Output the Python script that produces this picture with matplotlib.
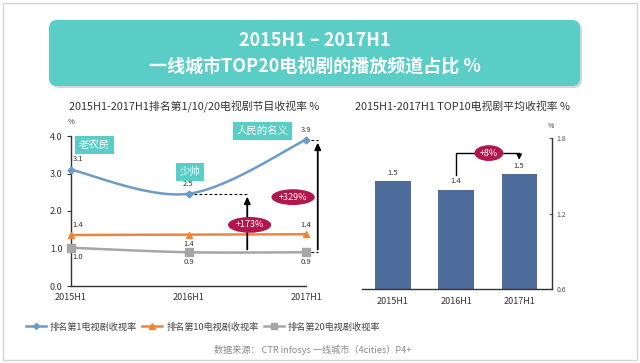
import matplotlib
matplotlib.use("Agg")
import matplotlib.pyplot as plt
import numpy as np
from matplotlib.lines import Line2D
from matplotlib.patches import FancyBboxPatch, Rectangle

plt.rcParams['font.family'] = ['Noto Sans CJK SC', 'DejaVu Sans']

# ---- data ----
periods = ['2015H1', '2016H1', '2017H1']
rank1 = [3.1, 2.46, 3.9]
rank10 = [1.36, 1.37, 1.38]
rank20 = [1.02, 0.9, 0.9]
series_names = ['排名第1电视剧收视率', '排名第10电视剧收视率', '排名第20电视剧收视率']
top_shows = ['老农民', '少帅', '人民的名义']
growth_2016 = '+173%'
growth_2017 = '+329%'

top10_avg = [1.46, 1.39, 1.51]
top10_growth = '+8%'

title_lines = ['2015H1 – 2017H1', '一线城市TOP20电视剧的播放频道占比 %']
left_title = '2015H1-2017H1排名第1/10/20电视剧节目收视率 %'
right_title = '2015H1-2017H1 TOP10电视剧平均收视率 %'
source = '数据来源： CTR infosys 一线城市（4cities）P4+'

TEAL = '#59cdc6'
CRIMSON = '#b3164b'
BLUE = '#6b9bc8'
ORANGE = '#ef8535'
GRAY = '#a6a6a6'
BAR = '#4d6b9b'
DARK = '#333333'


def smooth(xs, ys, n=40):
    # bezier segments with catmull-rom tangents (like Excel's smoothed line)
    pts = np.column_stack([xs, ys]).astype(float)
    out = []
    for i in range(len(pts) - 1):
        p0 = pts[max(i - 1, 0)]
        p1 = pts[i]
        p2 = pts[i + 1]
        p3 = pts[min(i + 2, len(pts) - 1)]
        c1 = p1 + (p2 - p0) / 6
        c2 = p2 - (p3 - p1) / 6
        t = np.linspace(0, 1, n)[:, None]
        seg = (1 - t) ** 3 * p1 + 3 * (1 - t) ** 2 * t * c1 + 3 * (1 - t) * t ** 2 * c2 + t ** 3 * p2
        out.append(seg if i == 0 else seg[1:])
    return np.vstack(out)


fig = plt.figure(figsize=(6.4, 3.63), dpi=100)

# background layer in pixel coordinates
bg = fig.add_axes([0, 0, 1, 1], zorder=0)
bg.set_xlim(0, 640)
bg.set_ylim(363, 0)
bg.axis('off')
bg.add_patch(Rectangle((3, 3), 634, 357, fc='white', ec='#d4d4d4', lw=1))
bg.add_patch(FancyBboxPatch((51, 22), 531, 66, boxstyle='round,pad=0,rounding_size=8',
                            fc='#bdbdbd', ec='none', alpha=0.6))
bg.add_patch(FancyBboxPatch((49, 20), 531, 66, boxstyle='round,pad=0,rounding_size=8',
                            fc=TEAL, ec='none'))
bg.text(315, 41, title_lines[0], color='white', fontsize=13, fontweight='bold',
        ha='center', va='center')
bg.text(315, 67, title_lines[1], color='white', fontsize=13, fontweight='bold',
        ha='center', va='center')
bg.text(194, 107, left_title, color=DARK, fontsize=7.8, ha='center', va='center')
bg.text(462, 107, right_title, color=DARK, fontsize=7.8, ha='center', va='center')
bg.text(71, 122, '%', color=DARK, fontsize=5.5, ha='center', va='center')
bg.text(551, 126, '%', color=DARK, fontsize=5, ha='center', va='center')
bg.text(313, 350, source, color='#8a8a8a', fontsize=6.6, ha='center', va='center')

# ---- left line chart ----
ax = fig.add_axes([71 / 640, (363 - 286) / 363, 235 / 640, 150 / 363], zorder=2)
ax.patch.set_alpha(0)
x = np.arange(len(periods))
for vals, color, marker, ms in [(rank1, BLUE, 'D', 3.5), (rank10, ORANGE, '^', 4.5), (rank20, GRAY, 's', 5.5)]:
    curve = smooth(x, vals)
    ax.plot(curve[:, 0], curve[:, 1], color=color, lw=1.8, clip_on=False, zorder=3)
    ax.plot(x, vals, linestyle='none', marker=marker, ms=ms, color=color, clip_on=False, zorder=4)

lab = dict(fontsize=5.5, color=DARK, textcoords='offset points', ha='center')
ax.annotate(f'{rank1[0]:.1f}', (x[0], rank1[0]), xytext=(5, 5), va='bottom', **lab)
ax.annotate(f'{rank1[1]:.1f}', (x[1], rank1[1]), xytext=(0, 4), va='bottom', **lab)
ax.annotate(f'{rank1[2]:.1f}', (x[2], rank1[2]), xytext=(0, 4), va='bottom', **lab)
ax.annotate(f'{rank10[0]:.1f}', (x[0], rank10[0]), xytext=(5, 4), va='bottom', **lab)
ax.annotate(f'{rank10[1]:.1f}', (x[1], rank10[1]), xytext=(0, -4), va='top', **lab)
ax.annotate(f'{rank10[2]:.1f}', (x[2], rank10[2]), xytext=(0, 4), va='bottom', **lab)
for i, v in enumerate(rank20):
    ax.annotate(f'{v:.1f}', (x[i], v), xytext=(5 if i == 0 else 0, -4), va='top', **lab)

# show name tags
tag = dict(color='white', fontsize=7.5, ha='center', va='center',
           bbox=dict(boxstyle='square,pad=0.35', fc=TEAL, ec='none'))
ax.text(0.2, 3.76, top_shows[0], **tag)
ax.text(1.01, 3.04, top_shows[1], **tag)
ax.text(1.63, 4.13, top_shows[2], clip_on=False, **tag)

# growth arrows
ax.plot([x[1], 1.5], [rank1[1]] * 2, ls='--', color='black', lw=0.8, dashes=(2.5, 2), clip_on=False)
ax.plot([x[1], 1.5], [rank20[1]] * 2, ls='--', color='black', lw=0.8, dashes=(2.5, 2), clip_on=False)
ax.plot([x[2], 2.1], [rank1[2]] * 2, ls='--', color='black', lw=0.8, dashes=(2.5, 2), clip_on=False)
ax.plot([x[2], 2.1], [rank20[2]] * 2, ls='--', color='black', lw=0.8, dashes=(2.5, 2), clip_on=False)
arr = dict(arrowstyle='-|>,head_length=0.4,head_width=0.18', color='black', lw=1.3)
ax.annotate('', xy=(1.5, rank1[1]), xytext=(1.5, rank20[1]), arrowprops=arr, annotation_clip=False)
ax.annotate('', xy=(2.1, rank1[2]), xytext=(2.1, rank20[2]), arrowprops=arr, annotation_clip=False)
oval = dict(color='white', fontsize=6.5, ha='center', va='center', zorder=6,
            bbox=dict(boxstyle='ellipse,pad=0.12', fc=CRIMSON, ec='none'))
ax.text(1.52, 1.63, growth_2016, **oval)
ax.text(1.89, 2.37, growth_2017, clip_on=False, **oval)

ax.set_xlim(0, 2)
ax.set_ylim(0, 4)
ax.set_yticks([0, 1, 2, 3, 4])
ax.set_yticklabels([f'{v:.1f}' for v in [0, 1, 2, 3, 4]])
ax.set_xticks(x)
ax.set_xticklabels(periods)
ax.tick_params(axis='x', length=0, pad=5, labelsize=6.5, colors=DARK)
ax.tick_params(axis='y', length=3, width=0.8, pad=3, labelsize=6.5, colors=DARK)
for s in ['top', 'right']:
    ax.spines[s].set_visible(False)
for s in ['left', 'bottom']:
    ax.spines[s].set_color(DARK)
    ax.spines[s].set_linewidth(1.0)

# ---- right bar chart ----
bx = fig.add_axes([362 / 640, (363 - 289) / 363, 190 / 640, 151 / 363], zorder=2)
bx.patch.set_alpha(0)
xb = np.arange(len(periods))
bars = bx.bar(xb, top10_avg, width=0.56, color=BAR, bottom=0)
for xi, v in zip(xb, top10_avg):
    bx.annotate(f'{v:.1f}', (xi, v), xytext=(0, 3), textcoords='offset points',
                ha='center', va='bottom', fontsize=5.5, color=DARK)
bx.plot([1, 1, 2], [1.505, 1.68, 1.68], color='black', lw=1)
bx.annotate('', xy=(2, 1.605), xytext=(2, 1.681),
            arrowprops=dict(arrowstyle='-|>,head_length=0.3,head_width=0.15', color='black', lw=1))
bx.text(1.52, 1.68, top10_growth, **oval)
bx.set_xlim(-0.49, 2.52)
bx.set_ylim(0.6, 1.8)
bx.yaxis.tick_right()
bx.set_yticks([0.6, 1.2, 1.8])
bx.set_yticklabels([f'{v:.1f}' for v in [0.6, 1.2, 1.8]])
bx.set_xticks(xb)
bx.set_xticklabels(periods)
bx.tick_params(axis='x', length=0, pad=6, labelsize=6.5, colors=DARK)
bx.tick_params(axis='y', length=2, width=0.8, pad=3, labelsize=5, colors='#555555', direction='in')
for s in ['top', 'left']:
    bx.spines[s].set_visible(False)
for s in ['right', 'bottom']:
    bx.spines[s].set_color(DARK)
    bx.spines[s].set_linewidth(1.0)

# ---- legend ----
handles = [Line2D([], [], color=BLUE, lw=1.8, marker='D', ms=3),
           Line2D([], [], color=ORANGE, lw=1.8, marker='^', ms=4),
           Line2D([], [], color=GRAY, lw=1.8, marker='s', ms=4)]
fig.legend(handles, series_names, loc='center', bbox_to_anchor=(203 / 640, (363 - 327) / 363),
           ncol=3, frameon=False, fontsize=6.6, handlelength=2.2, handletextpad=0.4,
           columnspacing=0.6, labelcolor='#444444')

fig.savefig('out.png', dpi=100)
